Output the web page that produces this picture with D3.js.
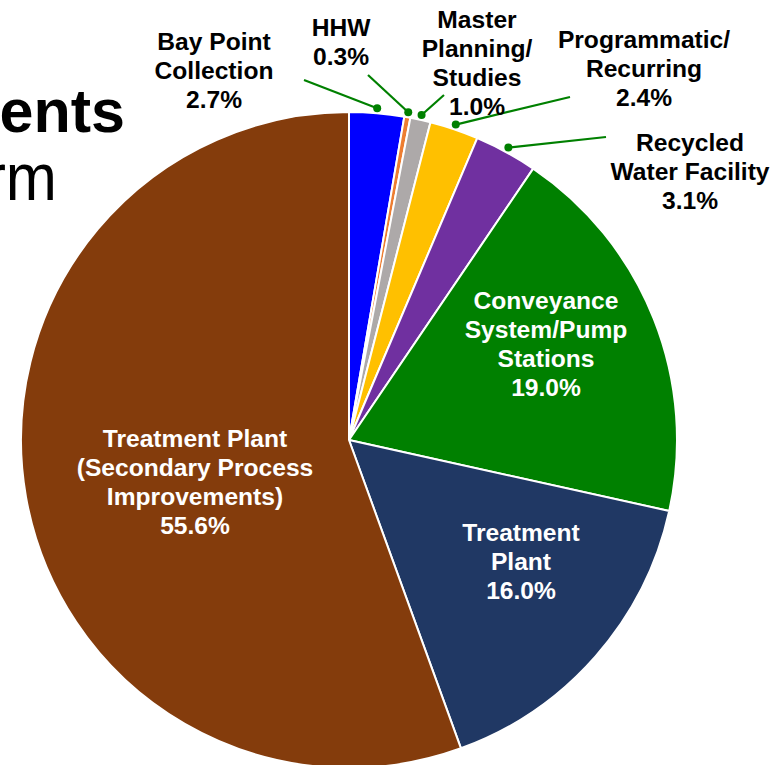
<!DOCTYPE html>
<html>
<head>
<meta charset="utf-8">
<script src="https://cdn.jsdelivr.net/npm/d3@7"></script>
<style>
  html, body { margin: 0; padding: 0; background: #fff; overflow: hidden; }
  svg { display: block; font-family: "Liberation Sans", Arial, sans-serif; }
</style>
</head>
<body>
<div id="chart"></div>
<script>
// slice data, clockwise from 12 o'clock
const categories = [
    "Bay Point Collection",
    "HHW",
    "Master Planning/ Studies",
    "Programmatic/ Recurring",
    "Recycled Water Facility",
    "Conveyance System/Pump Stations",
    "Treatment Plant",
    "Treatment Plant (Secondary Process Improvements)"
];
const shares = [2.7, 0.3, 1.0, 2.4, 3.1, 19.0, 16.0, 55.6];
const labelLines = [
    ["Bay Point", "Collection"],
    ["HHW"],
    ["Master", "Planning/", "Studies"],
    ["Programmatic/", "Recurring"],
    ["Recycled", "Water Facility"],
    ["Conveyance", "System/Pump", "Stations"],
    ["Treatment", "Plant"],
    ["Treatment Plant", "(Secondary Process", "Improvements)"]
];
const colors = ["#0000FF", "#ED7D31", "#ADA9A9", "#FFC000", "#7030A0", "#008000", "#203864", "#843C0C"];

(() => {
    const width = 778, height = 765;
    const cx = 349, cy = 440, radius = 328;
    const lineH = 29;

    // label layout: first baseline + centre x, and leader start for outside labels
    const layout = [
        { x: 214, y: 50, outside: true, lead: [304, 80] },
        { x: 341, y: 36, outside: true, lead: [368, 75] },
        { x: 477, y: 28, outside: true, lead: [444, 95] },
        { x: 644, y: 48, outside: true, lead: [570, 97] },
        { x: 690, y: 151, outside: true, lead: [606, 137] },
        { x: 546, y: 309, outside: false },
        { x: 521, y: 541, outside: false },
        { x: 195, y: 447, outside: false }
    ];

    const data = categories.map((c, i) => ({ name: c, value: shares[i], lines: labelLines[i], color: colors[i], pos: layout[i] }));

    const svg = d3.select("#chart").append("svg")
        .attr("width", width)
        .attr("height", height);

    // slide title fragments, clipped by the crop
    svg.append("text")
        .attr("x", 125).attr("y", 132)
        .attr("text-anchor", "end")
        .style("font-size", "61px").style("font-weight", "bold")
        .text("ents");
    svg.append("text")
        .attr("transform", "translate(57,200) scale(0.93,1)")
        .attr("text-anchor", "end")
        .style("font-size", "66px")
        .text("rm");

    const pie = d3.pie().value(d => d.value).sort(null);
    const arcs = pie(data);
    const arc = d3.arc().innerRadius(0).outerRadius(radius);
    const dotArc = d3.arc().innerRadius(radius + 5).outerRadius(radius + 5);

    const g = svg.append("g").attr("transform", `translate(${cx},${cy})`);

    g.selectAll("path.slice")
        .data(arcs)
        .enter().append("path")
        .attr("class", "slice")
        .attr("d", arc)
        .attr("fill", d => d.data.color)
        .attr("stroke", "#fff")
        .attr("stroke-width", 2)
        .attr("stroke-linejoin", "round");

    // leader lines for the small slices
    const outside = arcs.filter(d => d.data.pos.outside);
    outside.forEach(d => {
        const [dx, dy] = dotArc.centroid(d);
        const [lx, ly] = d.data.pos.lead;
        svg.append("line")
            .attr("x1", lx).attr("y1", ly)
            .attr("x2", cx + dx).attr("y2", cy + dy)
            .attr("stroke", "#008000")
            .attr("stroke-width", 2.2);
        svg.append("circle")
            .attr("cx", cx + dx).attr("cy", cy + dy)
            .attr("r", 4)
            .attr("fill", "#008000");
    });

    // labels
    arcs.forEach(d => {
        const p = d.data.pos;
        const t = svg.append("text")
            .attr("text-anchor", "middle")
            .style("font-size", "24.6px")
            .style("font-weight", "bold")
            .attr("fill", p.outside ? "#000" : "#fff");
        const lines = [...d.data.lines, d.data.value.toFixed(1) + "%"];
        lines.forEach((l, i) => {
            t.append("tspan")
                .attr("x", p.x)
                .attr("y", p.y + i * lineH)
                .text(l);
        });
    });
})();
</script>
</body>
</html>
